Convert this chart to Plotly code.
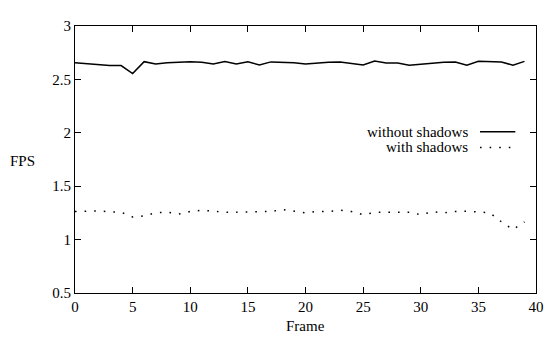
import plotly.graph_objects as go

frames = list(range(40))
without_shadows = [2.657, 2.648, 2.633, 2.630, 2.630, 2.554, 2.666, 2.645, 2.657, 2.663,
                   2.666, 2.660, 2.645, 2.668, 2.645, 2.664, 2.636, 2.664, 2.663, 2.655,
                   2.645, 2.655, 2.660, 2.663, 2.651, 2.636, 2.672, 2.654, 2.654, 2.633,
                   2.642, 2.654, 2.660, 2.663, 2.633, 2.669, 2.666, 2.663, 2.633, 2.669]
with_shadows = [1.263, 1.263, 1.269, 1.260, 1.257, 1.212, 1.221, 1.251, 1.257, 1.239,
                1.263, 1.275, 1.263, 1.257, 1.257, 1.257, 1.257, 1.263, 1.282, 1.263,
                1.251, 1.263, 1.263, 1.275, 1.263, 1.233, 1.255, 1.257, 1.257, 1.257,
                1.233, 1.260, 1.251, 1.263, 1.266, 1.258, 1.251, 1.166, 1.094, 1.166]
x_ticks = [0, 5, 10, 15, 20, 25, 30, 35, 40]
y_ticks = [0.5, 1, 1.5, 2, 2.5, 3]
series_names = ["without shadows", "with shadows"]

FONT = "Liberation Serif"
DOT = "1.6px,8px"

fig = go.Figure()
fig.add_trace(go.Scatter(x=frames, y=without_shadows, mode="lines", name=series_names[0],
                         line=dict(color="black", width=1.5), showlegend=False))
fig.add_trace(go.Scatter(x=frames, y=with_shadows, mode="lines", name=series_names[1],
                         line=dict(color="black", width=1.5, dash=DOT), showlegend=False))

axis_common = dict(showgrid=False, zeroline=False, showline=True, linecolor="black",
                   linewidth=1, mirror="ticks", ticks="inside", ticklen=6,
                   tickcolor="black", tickwidth=1,
                   tickfont=dict(family=FONT, size=15, color="black"))

# page body has an 8px margin, so the figure is 546x330 and offset by 8px
fig.update_layout(
    width=546, height=330,
    margin=dict(l=67, r=10, t=10, b=45),
    paper_bgcolor="white", plot_bgcolor="white",
    font=dict(family=FONT, size=15, color="black"),
    xaxis=dict(range=[0, 40], tickvals=x_ticks, ticktext=[str(v) for v in x_ticks], **axis_common),
    yaxis=dict(range=[0.5, 3], tickvals=y_ticks, ticktext=["0.5", "1", "1.5", "2", "2.5", "3"], **axis_common),
)

# axis titles (horizontal FPS as in reference)
fig.add_annotation(text="FPS", xref="paper", yref="paper", x=-0.113, y=0.496,
                   showarrow=False, xanchor="center", yanchor="middle",
                   font=dict(family=FONT, size=15, color="black"))
fig.add_annotation(text="Frame", xref="paper", yref="paper", x=0.5, y=-0.125,
                   showarrow=False, xanchor="center", yanchor="middle",
                   font=dict(family=FONT, size=15, color="black"))

# gnuplot-style legend: label on the left, sample on the right
legend_rows = [(0.604, dict(color="black", width=1.5)),
               (0.545, dict(color="black", width=1.5, dash=DOT))]
for name, (yy, ln) in zip(series_names, legend_rows):
    fig.add_annotation(text=name, xref="paper", yref="paper", x=0.857, y=yy,
                       showarrow=False, xanchor="right", yanchor="middle",
                       font=dict(family=FONT, size=15, color="black"))
    fig.add_shape(type="line", xref="paper", yref="paper", x0=0.8785, x1=0.9552,
                  y0=yy, y1=yy, line=ln)

fig.write_html("out.html")
